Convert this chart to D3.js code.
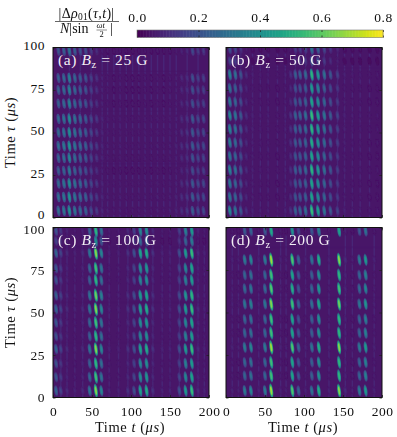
<!DOCTYPE html>
<html>
<head>
<meta charset="utf-8">
<script src="https://cdn.jsdelivr.net/npm/d3@7"></script>
<style>
html, body { margin: 0; padding: 0; background: #fff; }
text { font-family: "Liberation Serif", serif; fill: #111; }
.axis path { display: none; }
.axis line { stroke: #222; stroke-width: 0.8; }
.axis text { font-size: 13.5px; font-family: "Liberation Serif", serif; letter-spacing: 0.5px; }
</style>
</head>
<body>
<div id="chart"></div>
<script>
// t (us) and strength of the streak columns
const colTimesA = [7, 14, 21, 28, 35, 42, 49, 56, 63, 70, 78, 86, 94, 102, 110, 118, 126, 134, 142, 150, 158, 165, 172, 179, 186, 193];
const colAmpsA = [0.32, 0.35, 0.44, 0.34, 0.3, 0.27, 0.2, 0.15, 0.1, 0.08, 0.07, 0.08, 0.07, 0.07, 0.07, 0.08, 0.07, 0.08, 0.07, 0.08, 0.09, 0.12, 0.14, 0.26, 0.2, 0.2];
const colTimesB = [5, 12, 19, 26, 34, 44, 54, 66, 76, 83, 89, 95, 102, 110, 118, 126, 134, 143, 152, 162, 172, 184, 194];
const colAmpsB = [0.4, 0.34, 0.24, 0.12, 0.09, 0.08, 0.08, 0.07, 0.09, 0.13, 0.28, 0.28, 0.32, 0.6, 0.48, 0.34, 0.25, 0.18, 0.09, 0.08, 0.08, 0.07, 0.07];
const colTimesC = [4, 10, 18, 28, 38, 47, 55, 62, 72, 84, 96, 104, 112, 120, 128, 140, 150, 162, 170, 178, 186, 194];
const colAmpsC = [0.28, 0.18, 0.11, 0.09, 0.11, 0.34, 0.72, 0.4, 0.09, 0.09, 0.13, 0.22, 0.5, 0.54, 0.13, 0.09, 0.09, 0.22, 0.48, 0.6, 0.11, 0.09];
const colTimesD = [8, 16, 24, 32, 42, 50, 58, 70, 77, 85, 93, 102, 110, 119, 132, 145, 153, 162, 171, 179, 190];
const colAmpsD = [0.09, 0.08, 0.36, 0.4, 0.09, 0.36, 0.76, 0.09, 0.08, 0.64, 0.28, 0.09, 0.34, 0.54, 0.09, 0.72, 0.11, 0.08, 0.36, 0.48, 0.09];

// tau (us) of the streak rows and their relative strength
const rowTimesA = [4, 12, 20, 27.5, 35, 42, 50, 58, 67, 75, 82, 98];
const rowAmpsA = [1, 1, 0.95, 0.8, 0.9, 1, 0.95, 0.95, 0.85, 0.85, 0.85, 0.75];
const rowTimesB = [4, 12, 20, 28, 36, 44, 52, 60, 68, 76, 84, 92, 99];
const rowAmpsB = [1, 0.85, 0.85, 0.95, 0.85, 0.9, 0.95, 1, 0.85, 0.8, 0.95, 0.45, 0.55];
const rowTimesC = [4, 12, 20, 28.5, 36, 44, 52, 60, 69, 76, 85, 92, 98];
const rowAmpsC = [1, 0.85, 0.8, 1, 0.8, 0.85, 1, 0.95, 0.8, 0.85, 1, 0.6, 0.8];
const rowTimesD = [4, 12.8, 20.7, 29.5, 38, 46, 55, 64, 72, 81, 98];
const rowAmpsD = [1, 0.8, 0.8, 1, 0.8, 0.8, 0.95, 0.85, 0.8, 1, 0.7];

// faint vertical stripes and dark horizontal seams
const stripesA = [21, 35, 49, 63, 70, 78, 86, 94, 102, 110, 118, 126, 134, 142, 150, 158, 172, 186];
const stripesB = [12, 19, 34, 44, 54, 66, 76, 89, 102, 110, 126, 143, 152, 162, 172, 184];
const stripesC = [10, 18, 28, 38, 72, 84, 96, 128, 140, 150, 162, 186, 194];
const stripesD = [8, 16, 42, 70, 77, 102, 132, 153, 162, 190];
const seamsA = [86, 62.5, 31.5];
const seamsB = [55.5, 88];
const seamsC = [56, 32.5, 88];
const seamsD = [88.5, 59];

const panelNames = ['(a) ', '(b) ', '(c) ', '(d) '];
const fieldLabels = ['25 G', '50 G', '100 G', '200 G'];
const xTicks = [0, 50, 100, 150, 200];
const yTicks = [0, 25, 50, 75, 100];
const barTicks = [0, 0.2, 0.4, 0.6, 0.8];

const panels = [
    {cols: colTimesA, amps: colAmpsA, rows: rowTimesA, rowAmps: rowAmpsA, stripes: stripesA, seams: seamsA},
    {cols: colTimesB, amps: colAmpsB, rows: rowTimesB, rowAmps: rowAmpsB, stripes: stripesB, seams: seamsB},
    {cols: colTimesC, amps: colAmpsC, rows: rowTimesC, rowAmps: rowAmpsC, stripes: stripesC, seams: seamsC},
    {cols: colTimesD, amps: colAmpsD, rows: rowTimesD, rowAmps: rowAmpsD, stripes: stripesD, seams: seamsD}
];

const width = 397, height = 437;
const lefts = [53, 226], tops = [47.5, 227.5];
const gW = 156, gH = 170;

const svg = d3.select('#chart').append('svg')
    .attr('width', width)
    .attr('height', height)
    .style('display', 'block');

const color = d3.scaleSequential(d3.interpolateViridis).domain([0, 0.8]);
const backColor = color(0.045);

const defs = svg.append('defs');
defs.append('filter').attr('id', 'soft')
    .append('feGaussianBlur').attr('stdDeviation', 0.7);

panels.forEach(function (p, i) {
    let col = i % 2, row = Math.floor(i / 2);
    let xScale = d3.scaleLinear().domain([0, 200]).range([0, gW]);
    let yScale = d3.scaleLinear().domain([0, 100]).range([gH, 0]);

    let g = svg.append('g').attr('transform', 'translate(' + lefts[col] + ',' + tops[row] + ')');

    defs.append('clipPath').attr('id', 'clip' + i)
        .append('rect').attr('width', gW).attr('height', gH);

    let inner = g.append('g').attr('clip-path', 'url(#clip' + i + ')');
    inner.append('rect').attr('width', gW).attr('height', gH).attr('fill', backColor);

    inner.selectAll('rect.stripe').data(p.stripes).enter().append('rect')
        .attr('class', 'stripe')
        .attr('x', d => xScale(d) - 0.7)
        .attr('width', 1.4)
        .attr('height', gH)
        .attr('fill', color(0.085));

    // one streak for each column and row
    let streaks = [];
    p.cols.forEach(function (t, c) {
        p.rows.forEach(function (tau, r) {
            streaks.push({t: t, tau: tau, v: p.amps[c] * p.rowAmps[r]});
        });
    });
    streaks.sort((a, b) => a.v - b.v);

    let blurred = inner.append('g').attr('filter', 'url(#soft)');
    let marks = blurred.selectAll('g').data(streaks).enter().append('g')
        .attr('transform', d => 'translate(' + xScale(d.t) + ',' + yScale(d.tau) + ') rotate(-8)');
    // soft body, brighter core
    marks.append('ellipse')
        .attr('rx', 1.8)
        .attr('ry', d => 4 + d.v * 4)
        .attr('fill', d => color(d.v * 0.62));
    marks.append('ellipse')
        .attr('rx', 1)
        .attr('ry', d => 2.2 + d.v * 3)
        .attr('fill', d => color(d.v * 0.9));

    inner.selectAll('rect.seam').data(p.seams).enter().append('rect')
        .attr('class', 'seam')
        .attr('y', d => yScale(d) - 0.5)
        .attr('width', gW)
        .attr('height', 1)
        .attr('fill', backColor)
        .attr('opacity', 0.75);

    // axes with inward ticks on all four sides
    let xAxis = g.append('g').attr('class', 'axis')
        .attr('transform', 'translate(0,' + gH + ')')
        .call(d3.axisBottom(xScale).tickValues(xTicks).tickSizeInner(-2.5).tickPadding(9)
            .tickFormat(row === 1 ? d3.format('d') : ''));
    g.append('g').attr('class', 'axis')
        .call(d3.axisTop(xScale).tickValues(xTicks).tickSizeInner(-2.5).tickFormat(''));
    let yAxis = g.append('g').attr('class', 'axis')
        .call(d3.axisLeft(yScale).tickValues(yTicks).tickSizeInner(-2.5).tickPadding(8)
            .tickFormat(col === 0 ? d3.format('d') : ''));
    g.append('g').attr('class', 'axis')
        .attr('transform', 'translate(' + gW + ',0)')
        .call(d3.axisRight(yScale).tickValues(yTicks).tickSizeInner(-2.5).tickFormat(''));
    // end labels pulled apart where the two panels meet
    yAxis.selectAll('text').attr('y', 0).attr('dy', '0.32em')
        .attr('transform', function (d) {
            if (row === 0) return 'translate(0,' + (d === 0 ? -3.5 : -2) + ')';
            return 'translate(0,' + (d === 100 ? 1.5 : 0) + ')';
        });
    xAxis.selectAll('text').attr('dy', '0.71em');

    g.append('rect').attr('width', gW).attr('height', gH)
        .attr('fill', 'none').attr('stroke', '#111').attr('stroke-width', 1);

    // panel label
    let label = g.append('text').attr('x', 5).attr('y', 17)
        .style('font-size', '15.5px').style('fill', '#f2eef4').style('letter-spacing', '0.6px');
    label.append('tspan').text(panelNames[i]);
    label.append('tspan').attr('font-style', 'italic').text('B');
    label.append('tspan').attr('dy', 3).style('font-size', '10.5px').text('z');
    label.append('tspan').attr('dy', -3).text(' = ' + fieldLabels[i]);

    if (row === 1) {
        let xl = g.append('text').attr('x', gW / 2 - 1).attr('y', gH + 34)
            .attr('text-anchor', 'middle').style('font-size', '14.5px').style('letter-spacing', '0.55px');
        xl.append('tspan').text('Time ');
        xl.append('tspan').attr('font-style', 'italic').text('t');
        xl.append('tspan').text(' (');
        xl.append('tspan').attr('font-style', 'italic').text('μs');
        xl.append('tspan').text(')');
    }
    if (col === 0) {
        let yl = g.append('text')
            .attr('transform', 'translate(-38,' + (gH / 2) + ') rotate(-90)')
            .attr('text-anchor', 'middle').style('font-size', '14.5px').style('letter-spacing', '0.55px');
        yl.append('tspan').text('Time ');
        yl.append('tspan').attr('font-style', 'italic').text('τ');
        yl.append('tspan').text(' (');
        yl.append('tspan').attr('font-style', 'italic').text('μs');
        yl.append('tspan').text(')');
    }
});

// colour bar
let barScale = d3.scaleLinear().domain([0, 0.8]).range([0, 246]);
let bar = svg.append('g').attr('transform', 'translate(137,30)');
let barSteps = d3.range(0, 0.8, 0.005);
bar.selectAll('rect.step').data(barSteps).enter().append('rect')
    .attr('class', 'step')
    .attr('x', d => barScale(d))
    .attr('width', barScale(0.005) + 0.5)
    .attr('height', 7.5)
    .attr('fill', d => color(d));
bar.append('g').attr('class', 'axis')
    .call(d3.axisTop(barScale).tickValues(barTicks).tickSizeInner(0).tickPadding(8).tickFormat(d3.format('.1f')));
bar.append('g').attr('class', 'axis')
    .call(d3.axisTop(barScale).tickValues(barTicks).tickSizeInner(-2).tickFormat(''));
bar.append('g').attr('class', 'axis')
    .attr('transform', 'translate(0,7.5)')
    .call(d3.axisBottom(barScale).tickValues(barTicks).tickSizeInner(-2).tickFormat(''));
bar.append('rect').attr('width', 246).attr('height', 7.5)
    .attr('fill', 'none').attr('stroke', '#777').attr('stroke-width', 0.6);

// colour bar title as a fraction
let top1 = svg.append('text').attr('x', 86.5).attr('y', 18).attr('text-anchor', 'middle')
    .style('font-size', '14px').style('letter-spacing', '0.3px');
top1.append('tspan').text('|Δ');
top1.append('tspan').attr('font-style', 'italic').text('ρ');
top1.append('tspan').attr('dy', 2).style('font-size', '9.5px').text('01');
top1.append('tspan').attr('dy', -2).text('(');
top1.append('tspan').attr('font-style', 'italic').text('τ,t');
top1.append('tspan').text(')|');
svg.append('line').attr('x1', 55).attr('x2', 119).attr('y1', 21.5).attr('y2', 21.5)
    .attr('stroke', '#222').attr('stroke-width', 0.7);
let bottom1 = svg.append('text').attr('x', 60).attr('y', 33).style('font-size', '14px');
bottom1.append('tspan').attr('font-style', 'italic').text('N');
bottom1.append('tspan').text('|sin');
svg.append('text').attr('x', 96.5).attr('y', 28).style('font-size', '8.5px')
    .attr('font-style', 'italic').text('ωt');
svg.append('line').attr('x1', 96.5).attr('x2', 107).attr('y1', 30).attr('y2', 30)
    .attr('stroke', '#222').attr('stroke-width', 0.5);
svg.append('text').attr('x', 99.5).attr('y', 36.5).style('font-size', '8.5px').text('2');
svg.append('text').attr('x', 110).attr('y', 33).style('font-size', '14px').text('|');
</script>
</body>
</html>
